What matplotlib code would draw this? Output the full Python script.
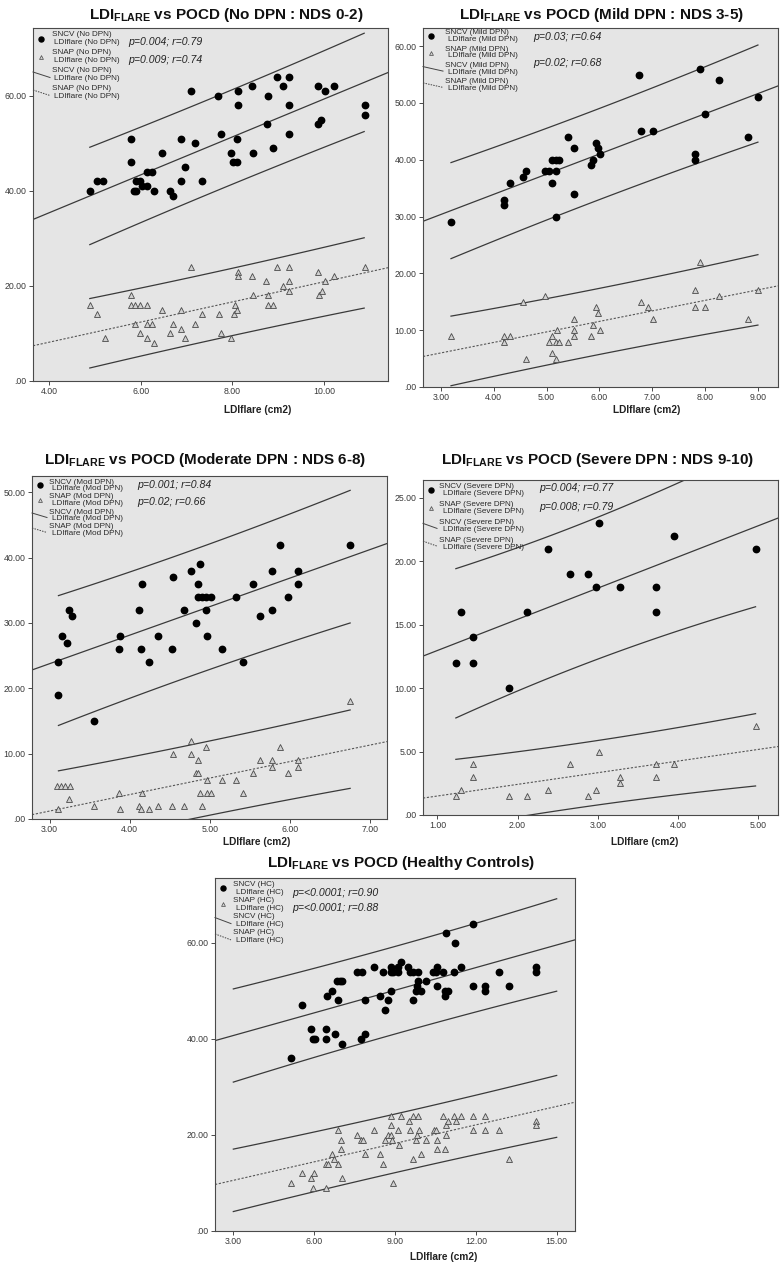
import matplotlib
matplotlib.use("Agg")
import matplotlib.pyplot as plt
import numpy as np
from matplotlib.ticker import FuncFormatter

plt.rcParams['font.family'] = ['Liberation Sans', 'DejaVu Sans']
plt.rcParams['mathtext.fontset'] = 'custom'
plt.rcParams['mathtext.bf'] = 'Liberation Sans:bold'
plt.rcParams['mathtext.rm'] = 'Liberation Sans'

W, H = 782, 1266

# ---------------- data ----------------
# No DPN : NDS 0-2
nodpn_sncv_x = [4.89, 5.04, 5.17, 5.80, 5.80, 5.85, 5.90, 5.90, 5.98, 6.02, 6.13, 6.24, 6.13, 6.29,
                6.46, 6.65, 6.70, 6.89, 6.88, 6.97, 7.18, 7.34, 7.75, 7.98, 8.11, 8.01, 8.10, 8.46,
                8.88, 9.23, 7.11, 7.69, 8.13, 8.13, 8.43, 8.78, 8.97, 9.23, 9.11, 9.23, 9.87, 10.02,
                10.22, 10.90, 10.90, 9.94, 9.87, 8.75]
nodpn_sncv_y = [40, 42, 42, 51, 46, 40, 40, 42, 42, 41, 44, 44, 41, 40,
                48, 40, 39, 51, 42, 45, 50, 42, 52, 48, 51, 46, 46, 48,
                49, 52, 61, 60, 61, 58, 62, 60, 64, 64, 62, 58, 62, 61,
                62, 58, 56, 55, 54, 54]
nodpn_snap_x = [4.89, 5.04, 5.80, 5.80, 5.88, 5.99, 6.13, 5.88, 6.13, 6.24, 6.46, 6.70, 6.89, 6.88,
                7.11, 7.18, 7.34, 7.70, 8.04, 8.07, 8.10, 8.13, 8.13, 8.43, 8.46, 8.73, 8.78, 8.78,
                8.88, 8.97, 9.11, 9.23, 9.23, 9.23, 9.87, 9.89, 9.97, 10.02, 10.22, 10.90, 5.22,
                5.99, 6.13, 6.29, 6.65, 6.97, 7.75, 7.98]
nodpn_snap_y = [16, 14, 18, 16, 16, 16, 16, 12, 12, 12, 15, 12, 15, 11,
                24, 12, 14, 14, 14, 16, 15, 23, 22, 22, 18, 21, 18, 16,
                16, 24, 20, 24, 21, 19, 23, 18, 19, 21, 22, 24, 9,
                10, 9, 8, 10, 9, 10, 9]

# Mild DPN : NDS 3-5
mild_sncv_x = [3.19, 4.20, 4.20, 4.31, 4.55, 4.61, 4.97, 5.05, 5.11, 5.17, 5.23, 5.11, 5.17, 5.17,
               5.41, 5.51, 5.51, 5.84, 5.88, 5.94, 5.98, 6.01, 6.78, 7.02, 7.80, 7.80, 8.81, 6.74,
               7.91, 8.26, 9.00, 7.99]
mild_sncv_y = [29, 33, 32, 36, 37, 38, 38, 38, 40, 40, 40, 36, 38, 30,
               44, 42, 34, 39, 40, 43, 42, 41, 45, 45, 41, 40, 44, 55,
               56, 54, 51, 48]
mild_snap_x = [4.55, 4.97, 5.51, 5.94, 5.98, 6.78, 6.91, 7.02, 7.80, 7.80, 7.91, 7.99, 8.26, 8.81,
               9.00, 5.20, 5.51, 5.88, 6.01, 3.19, 4.20, 4.31, 4.20, 4.61, 5.10, 5.05, 5.17, 5.23,
               5.11, 5.17, 5.41, 5.51, 5.84]
mild_snap_y = [15, 16, 12, 14, 13, 15, 14, 12, 17, 14, 22, 14, 16, 12,
               17, 10, 10, 11, 10, 9, 9, 9, 8, 5, 9, 8, 8, 8,
               6, 5, 8, 9, 9]

# Moderate DPN : NDS 6-8
mod_sncv_x = [3.11, 3.11, 3.15, 3.22, 3.24, 3.28, 3.55, 3.88, 3.87, 4.11, 4.15, 4.14, 4.24, 4.35,
              4.53, 4.54, 4.68, 4.77, 4.83, 4.85, 4.88, 4.85, 4.90, 4.95, 5.01, 4.95, 4.97, 5.15,
              5.33, 5.41, 5.54, 5.63, 5.77, 5.77, 5.88, 5.97, 6.10, 6.10, 6.75]
mod_sncv_y = [24, 19, 28, 27, 32, 31, 15, 28, 26, 32, 36, 26, 24, 28,
              26, 37, 32, 38, 30, 36, 39, 34, 34, 34, 34, 32, 28, 26,
              34, 24, 36, 31, 38, 32, 42, 34, 38, 36, 42]
mod_snap_x = [3.09, 3.14, 3.19, 3.25, 3.11, 3.24, 3.55, 3.87, 3.88, 4.11, 4.14, 4.15, 4.24, 4.35,
              4.53, 4.54, 4.68, 4.77, 4.77, 4.85, 4.83, 4.85, 4.88, 4.90, 4.95, 4.97, 4.97, 5.01,
              5.15, 5.33, 5.41, 5.54, 5.63, 5.77, 5.77, 5.88, 5.97, 6.10, 6.10, 6.75]
mod_snap_y = [5, 5, 5, 5, 1.5, 3, 2, 4, 1.5, 2, 1.5, 4, 1.5, 2,
              2, 10, 2, 12, 10, 9, 7, 7, 4, 2, 11, 6, 4, 4,
              6, 6, 4, 7, 9, 9, 8, 11, 7, 9, 8, 18]

# Severe DPN : NDS 9-10
sev_sncv_x = [1.23, 1.29, 1.45, 1.45, 1.89, 2.12, 2.38, 2.65, 2.88, 2.98, 3.02, 3.28, 3.73, 3.73, 3.95, 4.97]
sev_sncv_y = [12, 16, 14, 12, 10, 16, 21, 19, 19, 18, 23, 18, 18, 16, 22, 21]
sev_snap_x = [1.23, 1.29, 1.45, 1.45, 1.89, 2.12, 2.38, 2.65, 2.88, 2.98, 3.02, 3.28, 3.28, 3.73, 3.73, 3.95, 4.97]
sev_snap_y = [1.5, 2, 4, 3, 1.5, 1.5, 2, 4, 1.5, 2, 5, 3, 2.5, 4, 3, 4, 7]

# Healthy controls
hc_sncv_x = [5.13, 5.54, 5.87, 5.97, 6.03, 6.43, 6.43, 6.49, 6.65, 6.77, 6.84, 6.96, 7.05, 6.87,
             7.05, 7.58, 7.76, 7.73, 7.89, 7.89, 8.22, 8.44, 8.57, 8.63, 8.75, 8.85, 8.85, 8.93,
             8.85, 9.12, 9.12, 9.22, 9.50, 9.56, 9.68, 9.66, 9.87, 9.87, 9.83, 9.78, 9.95, 10.14,
             10.42, 10.52, 10.57, 10.57, 10.79, 10.88, 10.86, 10.98, 10.86, 11.23, 11.19, 11.44,
             11.88, 11.88, 12.34, 12.34, 12.87, 13.23, 14.22, 14.22]
hc_sncv_y = [36, 47, 42, 40, 40, 42, 40, 49, 50, 41, 52, 52, 52, 48,
             39, 54, 54, 40, 41, 48, 55, 49, 54, 46, 48, 50, 55, 54,
             54, 55, 54, 56, 55, 54, 54, 48, 54, 52, 51, 50, 50, 52,
             54, 54, 55, 51, 54, 62, 50, 50, 49, 60, 54, 55,
             64, 51, 51, 50, 54, 51, 55, 54]
hc_snap_x = [5.13, 5.54, 5.87, 5.97, 6.01, 6.43, 6.43, 6.53, 6.65, 6.75, 6.87, 6.87, 6.98, 6.98,
             7.05, 7.58, 7.73, 7.80, 7.89, 8.22, 8.44, 8.57, 8.63, 8.75, 8.85, 8.85, 8.85, 8.88,
             8.94, 9.12, 9.16, 9.22, 9.53, 9.56, 9.66, 9.68, 9.78, 9.83, 9.87, 9.89, 9.95, 10.14,
             10.46, 10.52, 10.57, 10.57, 10.79, 10.86, 10.88, 10.88, 10.98, 11.19, 11.25, 11.44,
             11.88, 11.88, 12.34, 12.34, 12.87, 13.23, 14.22, 14.22]
hc_snap_y = [10, 12, 11, 9, 12, 9, 14, 14, 16, 15, 14, 21, 19, 17,
             11, 20, 19, 19, 16, 21, 16, 14, 19, 20, 24, 22, 20, 19,
             10, 21, 18, 24, 23, 21, 24, 15, 19, 20, 24, 21, 16, 19,
             21, 21, 19, 17, 24, 17, 22, 20, 23, 24, 23, 24,
             24, 21, 24, 21, 21, 15, 23, 22]

# fitted lines as printed: intercept, slope, prediction-interval half width, interval x-range
titles = ['No DPN : NDS 0-2', 'Mild DPN : NDS 3-5', 'Moderate DPN : NDS 6-8',
          'Severe DPN : NDS 9-10', 'Healthy Controls']
groups = ['No DPN', 'Mild DPN', 'Mod DPN', 'Severe DPN', 'HC']
p_sncv = ['p=0.004; r=0.79', 'p=0.03; r=0.64', 'p=0.001; r=0.84', 'p=0.004; r=0.77', 'p=<0.0001; r=0.90']
p_snap = ['p=0.009; r=0.74', 'p=0.02; r=0.68', 'p=0.02; r=0.66', 'p=0.008; r=0.79', 'p=<0.0001; r=0.88']
sncv_fit = [(19.44, 3.99, 10.35), (19.74, 3.546, 8.55), (10.67, 4.368, 10.15), (10.51, 2.455, 6.3), (35.99, 1.571, 9.7)]
snap_fit = [(-0.32, 2.12, 7.4), (0.45, 1.85, 6.2), (-6.36, 2.526, 6.0), (0.58, 0.917, 2.85), (6.70, 1.283, 6.5)]
pi_range = [(4.89, 10.88), (3.19, 9.00), (3.11, 6.75), (1.23, 4.97), (3.0, 15.0)]

datasets = [(nodpn_sncv_x, nodpn_sncv_y, nodpn_snap_x, nodpn_snap_y),
            (mild_sncv_x, mild_sncv_y, mild_snap_x, mild_snap_y),
            (mod_sncv_x, mod_sncv_y, mod_snap_x, mod_snap_y),
            (sev_sncv_x, sev_sncv_y, sev_snap_x, sev_snap_y),
            (hc_sncv_x, hc_sncv_y, hc_snap_x, hc_snap_y)]

xlims = [(3.65, 11.4), (2.66, 9.38), (2.78, 7.21), (0.82, 5.25), (2.32, 15.68)]
ylims = [(0, 74.3), (0, 63.2), (0, 52.5), (0, 26.4), (0, 73.5)]
xticks = [[4, 6, 8, 10], [3, 4, 5, 6, 7, 8, 9], [3, 4, 5, 6, 7], [1, 2, 3, 4, 5], [3, 6, 9, 12, 15]]
yticks = [[0, 20, 40, 60], [0, 10, 20, 30, 40, 50, 60], [0, 10, 20, 30, 40, 50],
          [0, 5, 10, 15, 20, 25], [0, 20, 40, 60]]

# layout in pixels: (left, top, right, bottom)
boxes = [(33, 28, 388, 381), (423, 28, 778, 387), (32, 476, 387, 819),
         (423, 480, 778, 815), (215, 878, 575, 1231)]
title_pos = [(226, 15), (601, 15), (205, 460), (597, 460), (401, 863)]
xlab_pos = [(258, 410), (647, 410), (257, 842), (645, 842), (444, 1257)]
# legend: first line offset, entry step, line gap, text x, indent, p-text x, p-text ys
leg = [(7, 18, 7.5, 19, 2, 95, (14, 32)),
       (5, 16.3, 6.5, 22, 3, 110, (9, 35)),
       (6, 15, 6.5, 17, 3, 105, (9, 26)),
       (7, 17.7, 7, 16, 4, 116, (8, 27)),
       (6, 16.3, 8, 18, 3, 77, (15, 30))]

line_c = '#3a3a3a'

fig = plt.figure(figsize=(W / 100, H / 100), dpi=100)


def fmt(v, pos):
    return '.00' if abs(v) < 1e-9 else f'{v:.2f}'


def pi_shape(xs, xd):
    xd = np.asarray(xd, float)
    n = len(xd)
    sxx = np.sum((xd - xd.mean()) ** 2)
    return np.sqrt(1 + 1 / n + (xs - xd.mean()) ** 2 / sxx)


for i in range(5):
    l, t, r, b = boxes[i]
    ax = fig.add_axes([l / W, 1 - b / H, (r - l) / W, (b - t) / H])
    ax.set_facecolor('#e5e5e5')
    for s in ax.spines.values():
        s.set_color('#4a4a4a')
        s.set_linewidth(0.8)
    sx, sy, px, py = datasets[i]
    x0, x1 = xlims[i]
    lo, hi = pi_range[i]
    xs = np.linspace(lo, hi, 60)

    # SNCV fit + prediction interval
    b0, b1, hw = sncv_fit[i]
    ax.plot([x0, x1], [b0 + b1 * x0, b0 + b1 * x1], color=line_c, lw=0.9)
    g = pi_shape(xs, sx)
    g = g / max(g[0], g[-1])
    ax.plot(xs, b0 + b1 * xs + hw * g, color=line_c, lw=0.9)
    ax.plot(xs, b0 + b1 * xs - hw * g, color=line_c, lw=0.9)

    # SNAP fit + prediction interval
    b0, b1, hw = snap_fit[i]
    ax.plot([x0, x1], [b0 + b1 * x0, b0 + b1 * x1], color='#555555', lw=0.8, ls=(0, (2.0, 1.5)))
    g = pi_shape(xs, px)
    g = g / max(g[0], g[-1])
    ax.plot(xs, b0 + b1 * xs + hw * g, color=line_c, lw=0.9)
    ax.plot(xs, b0 + b1 * xs - hw * g, color=line_c, lw=0.9)

    ax.plot(sx, sy, 'o', ms=4.6, mfc='black', mec='black', ls='none', zorder=5)
    ax.plot(px, py, '^', ms=3.8, mfc='#d0d0d0', mec='#4a4a4a', mew=0.6, ls='none', zorder=5)

    ax.set_xlim(x0, x1)
    ax.set_ylim(*ylims[i])
    ax.set_xticks(xticks[i])
    ax.set_yticks(yticks[i])
    ax.xaxis.set_major_formatter(FuncFormatter(fmt))
    ax.yaxis.set_major_formatter(FuncFormatter(fmt))
    ax.tick_params(direction='out', length=3, width=0.7, color='#4a4a4a',
                   labelsize=6.3, labelcolor='#3a3a3a', pad=1.5)

    # legend (SPSS style)
    w, h = r - l, b - t
    y_first, step, gap, tx, ind, ptx, pys = leg[i]
    grp = groups[i]

    def A(dx, dy):
        return dx / w, 1 - dy / h

    names = ['SNCV', 'SNAP', 'SNCV', 'SNAP']
    for k in range(4):
        y0 = y_first + k * step
        ax.text(*A(tx, y0), f'{names[k]} ({grp})', transform=ax.transAxes,
                fontsize=5.9, color='#2a2a2a', va='center', ha='left')
        ax.text(*A(tx + ind, y0 + gap), f'LDIflare ({grp})', transform=ax.transAxes,
                fontsize=5.9, color='#2a2a2a', va='center', ha='left')
        if k == 0:
            ax.plot(*A(8, y0 + gap / 2), 'o', ms=3.6, color='black', transform=ax.transAxes, clip_on=False)
        elif k == 1:
            ax.plot(*A(8, y0 + gap / 2), '^', ms=2.8, mfc='#d0d0d0', mec='#4a4a4a', mew=0.5,
                    transform=ax.transAxes, clip_on=False)
        else:
            (ax0, ay0), (ax1, ay1) = A(0, y0 + 1), A(tx - 2, y0 + gap - 1)
            ax.plot([ax0, ax1], [ay0, ay1], color='#444444', lw=0.7,
                    ls='-' if k == 2 else (0, (1.5, 1.2)), transform=ax.transAxes, clip_on=False)
    ax.text(*A(ptx, pys[0]), p_sncv[i], transform=ax.transAxes, fontsize=7.6,
            style='italic', color='#222222', va='center', ha='left')
    ax.text(*A(ptx, pys[1]), p_snap[i], transform=ax.transAxes, fontsize=7.6,
            style='italic', color='#222222', va='center', ha='left')

    fig.text(title_pos[i][0] / W, 1 - title_pos[i][1] / H,
             r'LDI$_{\mathbf{FLARE}}$ vs POCD (' + titles[i] + ')',
             fontsize=11, fontweight='bold', ha='center', va='center', color='#111111')
    fig.text(xlab_pos[i][0] / W, 1 - xlab_pos[i][1] / H, 'LDIflare (cm2)',
             fontsize=7.3, fontweight='bold', ha='center', va='center', color='#222222')

fig.savefig('out.png', dpi=100, facecolor='white')
